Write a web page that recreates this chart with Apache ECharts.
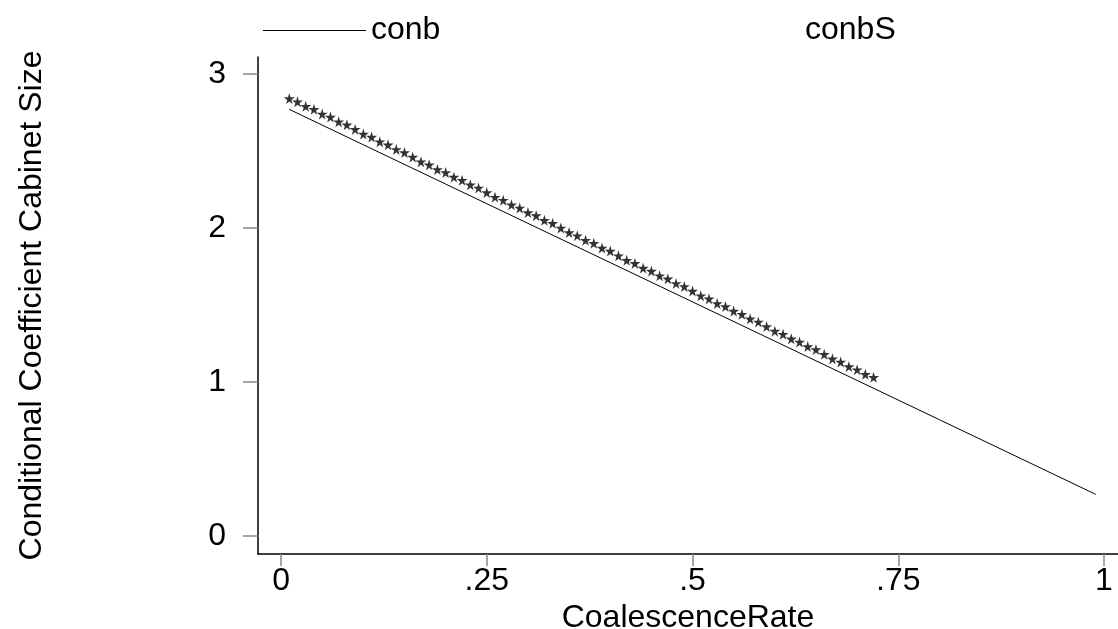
<!DOCTYPE html>
<html>
<head>
<meta charset="utf-8">
<script src="https://cdn.jsdelivr.net/npm/echarts@6/dist/echarts.min.js"></script>
<style>
  html, body { margin: 0; padding: 0; background: #fff; }
  #main { width: 1118px; height: 629px; }
</style>
</head>
<body>
<div id="main"></div>
<script>
// conb: solid line
var conbRate = [0.01, 0.1, 0.2, 0.3, 0.4, 0.5, 0.6, 0.7, 0.8, 0.9, 0.99];
var conbValues = [2.77, 2.54, 2.285, 2.03, 1.775, 1.52, 1.265, 1.01, 0.755, 0.50, 0.27];

// conbS: star markers
var conbSRate = [
  0.01, 0.02, 0.03, 0.04, 0.05, 0.06, 0.07, 0.08, 0.09, 0.10, 0.11, 0.12,
  0.13, 0.14, 0.15, 0.16, 0.17, 0.18, 0.19, 0.20, 0.21, 0.22, 0.23, 0.24,
  0.25, 0.26, 0.27, 0.28, 0.29, 0.30, 0.31, 0.32, 0.33, 0.34, 0.35, 0.36,
  0.37, 0.38, 0.39, 0.40, 0.41, 0.42, 0.43, 0.44, 0.45, 0.46, 0.47, 0.48,
  0.49, 0.50, 0.51, 0.52, 0.53, 0.54, 0.55, 0.56, 0.57, 0.58, 0.59, 0.60,
  0.61, 0.62, 0.63, 0.64, 0.65, 0.66, 0.67, 0.68, 0.69, 0.70, 0.71, 0.72
];
var conbSValues = [
  2.84, 2.82, 2.79, 2.77, 2.74, 2.72, 2.69, 2.67, 2.64, 2.61, 2.59, 2.56,
  2.54, 2.51, 2.49, 2.46, 2.43, 2.41, 2.38, 2.36, 2.33, 2.31, 2.28, 2.26,
  2.23, 2.20, 2.18, 2.15, 2.13, 2.10, 2.08, 2.05, 2.03, 2.00, 1.97, 1.95,
  1.92, 1.90, 1.87, 1.85, 1.82, 1.79, 1.77, 1.74, 1.72, 1.69, 1.67, 1.64,
  1.62, 1.59, 1.56, 1.54, 1.51, 1.49, 1.46, 1.44, 1.41, 1.39, 1.36, 1.33,
  1.31, 1.28, 1.26, 1.23, 1.21, 1.18, 1.15, 1.13, 1.10, 1.08, 1.05, 1.03
];

var xTicks = [0, 0.25, 0.5, 0.75, 1];
var xTickLabels = ['0', '.25', '.5', '.75', '1'];
var yTicks = [0, 1, 2, 3];

function pairs(xs, ys) {
  return xs.map(function (x, i) { return [x, ys[i]]; });
}

var font = 'Liberation Sans, Arial, sans-serif';
var starPath = 'path://M50,0 L61,35 L98,35 L68,57 L79,91 L50,70 L21,91 L32,57 L2,35 L39,35 Z';

var chart = echarts.init(document.getElementById('main'));
chart.setOption({
  animation: false,
  backgroundColor: '#fff',
  textStyle: { fontFamily: font },
  grid: { left: 258, right: 0, top: 57, bottom: 75, outerBoundsMode: 'none', containLabel: false },
  legend: [{
    left: 258,
    top: 9.5,
    selectedMode: false,
    icon: 'rect',
    itemWidth: 103,
    itemHeight: 1,
    data: [{ name: 'conb', itemStyle: { color: '#000' } }],
    textStyle: { fontSize: 32, color: '#000', fontFamily: font }
  }, {
    left: 793,
    top: 9.5,
    selectedMode: false,
    icon: 'rect',
    itemWidth: 1,
    itemHeight: 1,
    data: [{ name: 'conbS', itemStyle: { opacity: 0 } }],
    textStyle: { fontSize: 32, color: '#000', fontFamily: font, padding: [0, 0, 0, 1] }
  }],
  xAxis: {
    type: 'value',
    min: -0.028,
    max: 1.017,
    name: 'CoalescenceRate',
    nameLocation: 'middle',
    nameGap: 45,
    nameTextStyle: { fontSize: 32, color: '#000', fontFamily: font },
    splitLine: { show: false },
    axisLine: { onZero: false, lineStyle: { color: '#000', width: 1.5 } },
    axisTick: { customValues: xTicks, length: 12, lineStyle: { color: '#888', width: 1.5 } },
    axisLabel: {
      customValues: xTicks,
      fontSize: 32,
      color: '#000',
      margin: 11,
      fontFamily: font,
      formatter: function (v) {
        var i = xTicks.indexOf(v);
        return i >= 0 ? xTickLabels[i] : '';
      }
    }
  },
  yAxis: {
    type: 'value',
    min: -0.117,
    max: 3.11,
    name: 'Conditional Coefficient Cabinet Size',
    nameLocation: 'middle',
    nameGap: 210,
    nameTextStyle: { fontSize: 32, color: '#000', fontFamily: font },
    splitLine: { show: false },
    axisLine: { show: true, onZero: false, lineStyle: { color: '#000', width: 1.5 } },
    axisTick: { show: true, customValues: yTicks, length: 15, lineStyle: { color: '#888', width: 1.5 } },
    axisLabel: {
      customValues: yTicks,
      fontSize: 32,
      color: '#000',
      margin: 32,
      fontFamily: font
    }
  },
  series: [{
    name: 'conb',
    type: 'line',
    data: pairs(conbRate, conbValues),
    showSymbol: false,
    lineStyle: { color: '#000', width: 1 },
    itemStyle: { color: '#000' }
  }, {
    name: 'conbS',
    type: 'scatter',
    data: pairs(conbSRate, conbSValues),
    symbol: starPath,
    symbolSize: 11,
    itemStyle: { color: '#000' }
  }]
});
</script>
</body>
</html>
